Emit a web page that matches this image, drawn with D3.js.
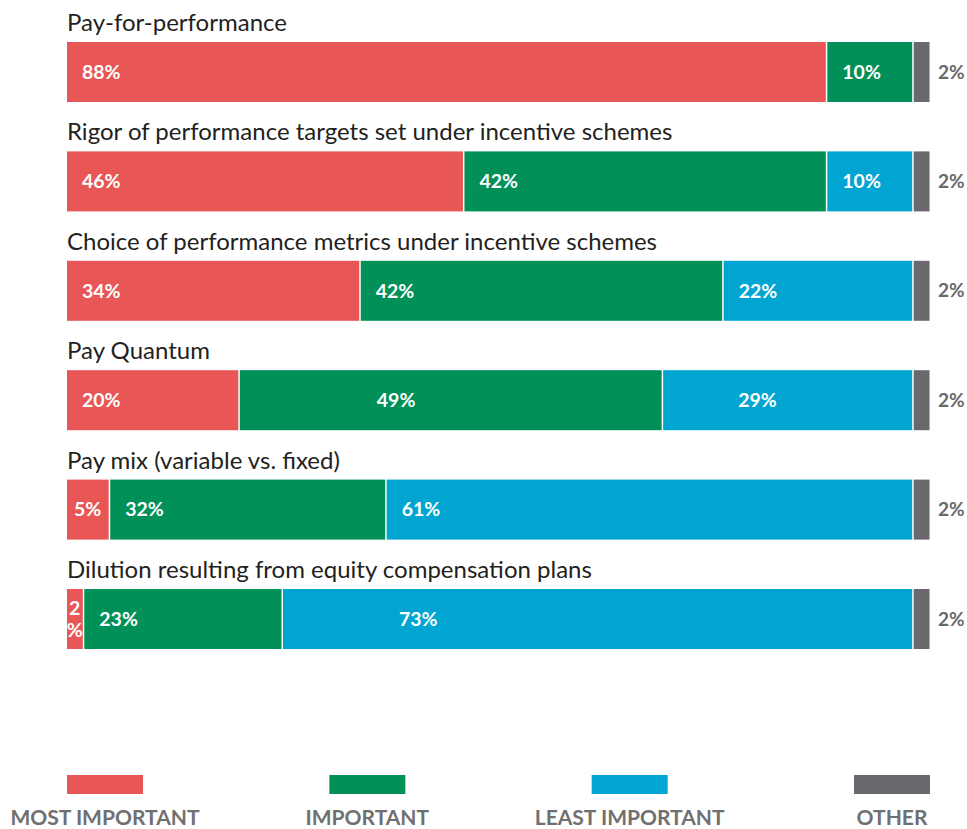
<!DOCTYPE html>
<html>
<head>
<meta charset="utf-8">
<script src="https://cdn.jsdelivr.net/npm/d3@7"></script>
<style>
  body { margin: 0; background: #fff; }
  svg { display: block; }
</style>
</head>
<body>
<script>
// data
let categories = [
    "Pay-for-performance",
    "Rigor of performance targets set under incentive schemes",
    "Choice of performance metrics under incentive schemes",
    "Pay Quantum",
    "Pay mix (variable vs. fixed)",
    "Dilution resulting from equity compensation plans"
]
let seriesNames = ["MOST IMPORTANT", "IMPORTANT", "LEAST IMPORTANT", "OTHER"]
let mostImportant = [88, 46, 34, 20, 5, 2]
let important = [10, 42, 42, 49, 32, 23]
let leastImportant = [0, 10, 22, 29, 61, 73]
let other = [2, 2, 2, 2, 2, 2]

let colors = ["#e85656", "#009058", "#00a5d2", "#69696d"]

// a few labels in the original were hand placed further into their segment
let labelNudge = { "3-1": 137, "3-2": 75, "5-2": 116 }

let width = 967, height = 829

let svg = d3.select("body")
    .append("svg")
    .attr("width", width)
    .attr("height", height)
    .attr("font-family", "Lato, 'Open Sans', sans-serif");

let x = d3.scaleLinear()
    .domain([0, 100])
    .range([67, 931])

let y = d3.scaleBand()
    .domain(categories)
    .range([42, 649])
    .paddingInner(0.4516)
    .paddingOuter(0)

// stack rows
let rows = categories.map((c, i) => ({
    name: c,
    most: mostImportant[i], imp: important[i], least: leastImportant[i], other: other[i]
}))
let stack = d3.stack().keys(["most", "imp", "least", "other"])
let series = stack(rows)

//titles above each bar
svg.append("g")
    .selectAll("text")
    .data(categories)
    .join("text")
    .attr("x", x(0))
    .attr("y", d => y(d) - 11)
    .attr("font-size", 24)
    .attr("fill", "#231f20")
    .text(d => d);

let layer = svg.append("g")
    .selectAll("g")
    .data(series)
    .join("g")
    .attr("fill", (d, i) => colors[i]);

layer.selectAll("rect")
    .data(d => d.filter(s => s[1] - s[0] > 0))
    .join("rect")
    .attr("x", d => x(d[0]))
    .attr("y", d => y(d.data.name))
    .attr("width", d => Math.max(0, x(d[1]) - x(d[0]) - 1.5))
    .attr("height", y.bandwidth());

// segment labels (not the "other" one)
series.slice(0, 3).forEach((s, si) => {
    s.forEach((d, ri) => {
        let v = d[1] - d[0]
        if (v <= 0) return
        let x0 = x(d[0]), w = x(d[1]) - x(d[0])
        let cy = y(d.data.name) + y.bandwidth() / 2
        let t = svg.append("text")
            .attr("fill", "#fff")
            .attr("font-weight", 700)
            .attr("font-size", 19.5)
        if (w < 30) {
            // too narrow, wrap the label
            t.attr("text-anchor", "middle")
            t.append("tspan").attr("x", x0 + w / 2 - 1).attr("y", cy - 4).text(v)
            t.append("tspan").attr("x", x0 + w / 2 - 1).attr("y", cy + 18).text("%")
        } else if (w < 50) {
            t.attr("x", x0 + w / 2 - 1).attr("y", cy).attr("dy", "0.35em")
                .attr("text-anchor", "middle").text(v + "%")
        } else {
            let off = labelNudge[ri + "-" + si] || 15
            t.attr("x", x0 + off).attr("y", cy).attr("dy", "0.35em").text(v + "%")
        }
    })
})

// "other" labels sit to the right of the bar
svg.append("g")
    .selectAll("text")
    .data(series[3])
    .join("text")
    .attr("x", d => x(d[1]) + 7)
    .attr("y", d => y(d.data.name) + y.bandwidth() / 2)
    .attr("dy", "0.35em")
    .attr("fill", "#69696d")
    .attr("font-weight", 700)
    .attr("font-size", 19)
    .text(d => (d[1] - d[0]) + "%");

// legend
let legX = d3.scalePoint()
    .domain(seriesNames)
    .range([105, 892])

let leg = svg.append("g")
    .selectAll("g")
    .data(seriesNames)
    .join("g")
    .attr("transform", d => `translate(${legX(d)},0)`);

leg.append("rect")
    .attr("x", -38)
    .attr("y", 775)
    .attr("width", 76)
    .attr("height", 19)
    .attr("fill", (d, i) => colors[i]);

leg.append("text")
    .attr("y", 825)
    .attr("text-anchor", "middle")
    .attr("font-size", 21)
    .attr("font-weight", 700)
    .attr("fill", "#707070")
    .text(d => d);
</script>
</body>
</html>
